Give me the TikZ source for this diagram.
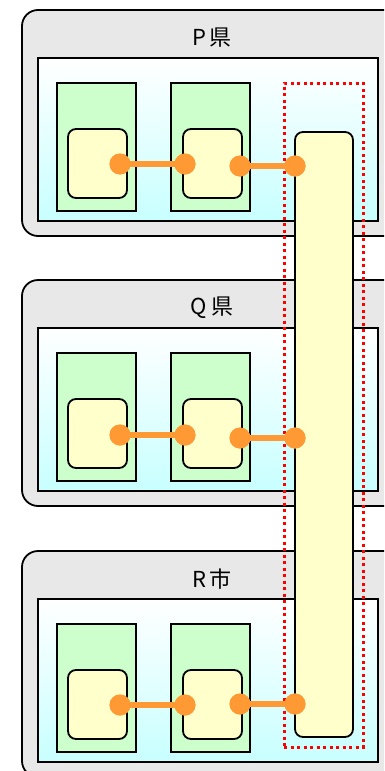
\documentclass[tikz,border=0pt]{standalone}
\usepackage{fontspec}
\newfontfamily\jpfont{Noto Sans CJK JP}
\usepackage{tikz}
\usetikzlibrary{positioning}
\definecolor{panelgray}{HTML}{E8E8E8}
\definecolor{areacyan}{HTML}{C8FFFF}
\definecolor{cellgreen}{HTML}{CCFFCC}
\definecolor{unityellow}{HTML}{FFFFCC}
\definecolor{linkorange}{HTML}{FF9933}

\begin{document}
\begin{tikzpicture}[x=1pt, y=-1pt,
    panel/.style={draw, line width=1.8pt, fill=panelgray, rounded corners=16pt},
    area/.style={draw, line width=1.8pt, top color=white, bottom color=areacyan},
    cell/.style={draw, line width=1.8pt, fill=cellgreen, inner sep=0,
      minimum width=79pt, minimum height=128pt},
    unit/.style={draw, line width=1.8pt, fill=unityellow, rounded corners=8pt,
      inner sep=0, minimum width=59pt, minimum height=69pt},
    port/.style={circle, fill=linkorange, inner sep=0, minimum size=21pt},
    link/.style={draw=linkorange, line width=6pt}]
      \useasboundingbox (0,0) rectangle (384,771);
      \clip (0,0) rectangle (384,771);
      % Three regional panels
      \foreach \dy/\name/\lbl in {0/P/P\hspace{4pt}県, 270/Q/Q\hspace{4pt}県, 541/R/R\hspace{4pt}市} {
        \draw[panel] (22, 10+\dy) rectangle (420, 236+\dy);
        \node[font=\jpfont\fontsize{22}{26}\selectfont] (\name-title) at (212, 38+\dy) {\lbl};
        \draw[area] (38, 58+\dy) rectangle (378, 221+\dy);
        \node[cell] (\name-cellA) at (96.5, 147+\dy) {};
        \node[cell] (\name-cellB) at (210.5, 147+\dy) {};
        \node[unit] (\name-unitA) at (97.5, 163.5+\dy) {};
        \node[unit] (\name-unitB) at (212.5, 163.5+\dy) {};
      }
      % Shared vertical unit and dotted group
      \node[unit, minimum height=605pt, minimum width=58pt] (shared) at (324, 434.5) {};
      \node[draw=red, line width=3pt, dash pattern=on 3pt off 3.5pt, inner sep=0,
        minimum width=79pt, minimum height=664pt] (group) at (323.5, 415) {};
      % Links between units
      \foreach \dy/\name/\ya/\yb in {0/P/164/166, 270/Q/165/168, 541/R/164/163} {
        \node[port] (\name-a) at (120, \ya+\dy) {};
        \node[port] (\name-b) at (185, \ya+\dy) {};
        \node[port] (\name-c) at (240, \yb+\dy) {};
        \node[port] (\name-d) at (295, \yb+\dy) {};
        \draw[link] (\name-a.center) -- (\name-b.center);
        \draw[link] (\name-c.center) -- (\name-d.center);
        \node[port] at (\name-a) {};
        \node[port] at (\name-b) {};
        \node[port] at (\name-c) {};
        \node[port] at (\name-d) {};
      }
    \end{tikzpicture}
\end{document}
